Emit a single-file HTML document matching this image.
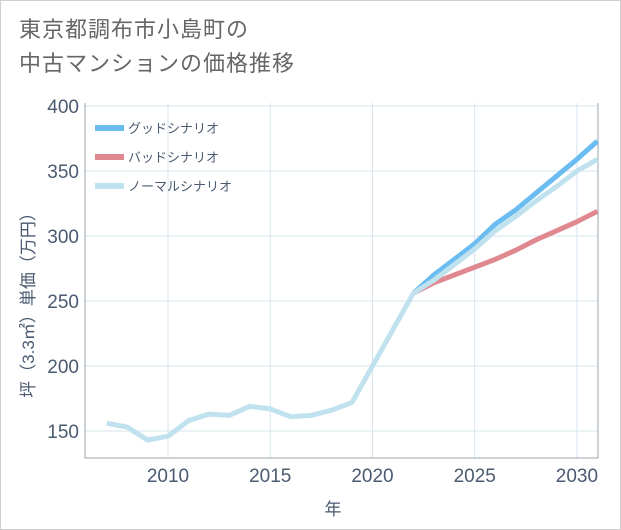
<!DOCTYPE html>
<html><head><meta charset="utf-8"><style>
body{margin:0;background:#fff;}
#wrap{position:relative;width:619px;height:528px;border:1px solid #d0d0d0;background:#fff;font-family:"Liberation Sans","Noto Sans CJK JP",sans-serif;overflow:hidden;}
#title{position:absolute;left:18px;top:12px;font-size:22px;line-height:34px;color:#666;letter-spacing:1px;}
svg{position:absolute;left:0;top:0;}
</style></head><body>
<div id="wrap">
<div id="title">東京都調布市小島町の<br>中古マンションの価格推移</div>
<svg id="chart" width="621" height="530"></svg>
</div>
<script>
const histYears=[2007,2008,2009,2010,2011,2012,2013,2014,2015,2016,2017,2018,2019,2020,2021,2022];
const histValues=[156,153,143,146,158,163,162,169,167,161,162,166,172,200,228,256];
const futYears=[2022,2023,2024,2025,2026,2027,2028,2029,2030,2031];
const goodValues=[256,270,282,294,309,320,333,346,359,373];
const badValues=[256,264,270,276,282,289,297,304,311,319];
const normalValues=[256,266,278,290,304,315,327,338,350,359];
const xTicks=[2010,2015,2020,2025,2030];
const yTicks=[150,200,250,300,350,400];
const legendLabels=["グッドシナリオ","バッドシナリオ","ノーマルシナリオ"];

const L=84,R=597,T=102,B=457;
const x=v=>L+(v-2005.94)*(R-L)/(2031.03-2005.94);
const y=v=>430-(v-150)*1.3;
const svg=document.getElementById('chart');
const NS='http://www.w3.org/2000/svg';
function mk(tag,attrs){const e=document.createElementNS(NS,tag);for(const k in attrs)e.setAttribute(k,attrs[k]);svg.appendChild(e);return e;}
yTicks.forEach(t=>{
 const g=mk('line',{x1:L,x2:R,y1:y(t),y2:y(t),stroke:'#d6e4ee','stroke-width':1});
 
 
 const tx=mk('text',{x:L-6,y:y(t)+7,'text-anchor':'end','font-size':19,fill:'#4a5a70'});
 tx.textContent=t;
 
 
});
xTicks.forEach(t=>{
 const g=mk('line',{x1:x(t),x2:x(t),y1:T,y2:B,stroke:'#d6e4ee','stroke-width':1});
 
 
 const tx=mk('text',{x:x(t),y:B+24,'text-anchor':'middle','font-size':19,fill:'#4a5a70'});
 tx.textContent=t;
 
 
});
const ax=mk('path',{d:`M${L},${T}V${B}H${R}V${T}`,fill:'none',stroke:'#9aa4ae','stroke-width':1});


function line(xs,vs,color,name){
 const p=mk('polyline',{points:xs.map((t,i)=>x(t)+','+y(vs[i])).join(' '),fill:'none',stroke:color,'stroke-width':5,'stroke-linejoin':'round'});
 
 
}
line(futYears,goodValues,'#6bbcf0','good-scenario-line');
line(futYears,badValues,'#e0888f','bad-scenario-line');
line(futYears,normalValues,'#c0e2ee','normal-scenario-line');
line(histYears,histValues,'#c0e2ee','historical-line');
const cols=['#6bbcf0','#e0888f','#c0e2ee'];
legendLabels.forEach((lab,i)=>{
 const yy=127+i*29;
 const l=mk('line',{x1:94,x2:123,y1:yy,y2:yy,stroke:cols[i],'stroke-width':6});
 
 
 const t=mk('text',{x:127,y:yy+5,'font-size':13,fill:'#4a5a70'});
 t.textContent=lab;
 
 
});
const xt=mk('text',{x:332,y:514,'text-anchor':'middle','font-size':17,fill:'#4a5a70'});
xt.textContent='年';


const yt=mk('text',{x:0,y:0,'text-anchor':'middle','font-size':17,fill:'#4a5a70',transform:'translate(33,300) rotate(-90)'});
yt.textContent='坪（3.3㎡）単価（万円）';


</script>
</body></html>
